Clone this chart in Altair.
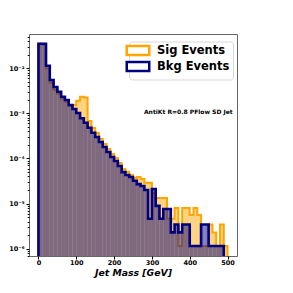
import json
import altair as alt
import pandas as pd

# ---- data (10 GeV bins, 0-500 GeV) ----
bin_lo = list(range(0, 500, 10))
bin_width = 10

sig_values = [
    0.035, 0.033, 0.0099, 0.00472, 0.0033, 0.00269, 0.00209, 0.00179, 0.00146, 0.00153,
    0.00191, 0.00234, 0.00225, 0.000679, 0.000474, 0.000367, 0.00027, 0.000209, 0.000163, 0.000126,
    0.000103, 7.9e-5, 5.85e-5, 5.0e-5, 4.3e-5, 3.7e-5, 3.9e-5, 3.5e-5, 2.9e-5, 2.9e-5,
    1.72e-5, 1.33e-5, 1.33e-5, 1.33e-5, 4.6e-6, 4.6e-6, 8.0e-6, 1.15e-6, 8.0e-6, 8.0e-6,
    5.6e-6, 8.0e-6, 5.6e-6, 1.15e-6, 1.15e-6, 3.45e-6, 2.3e-6, 1.15e-6, 3.45e-6, 1.15e-6,
]
bkg_values = [
    0.035, 0.035, 0.01142, 0.0055, 0.00385, 0.00303, 0.00234, 0.00198, 0.00153, 0.00125,
    0.00102, 0.000778, 0.000622, 0.000482, 0.000373, 0.0003, 0.000232, 0.00018, 0.000139, 0.000108,
    8.8e-5, 6.8e-5, 5.0e-5, 4.3e-5, 3.9e-5, 3.2e-5, 2.7e-5, 2.45e-5, 2.0e-5, 4.6e-6,
    2.1e-5, 8.9e-6, 4.6e-6, 7.6e-6, 7.6e-6, 2.3e-6, 3.45e-6, 2.3e-6, 3.45e-6, 3.45e-6,
    1.15e-6, 1.15e-6, 1.15e-6, 3.45e-6, 3.45e-6, 1.15e-6, 1.15e-6, 1.15e-6, 1.15e-6,
]
series_names = ["Sig Events", "Bkg Events"]
series_colors = ["orange", "navy"]

x_ticks = [0, 100, 200, 300, 400, 500]
y_tick_labels = ["10\u207b\u2076", "10\u207b\u2075", "10\u207b\u2074", "10\u207b\u00b3", "10\u207b\u00b2"]
annotation = "AntiKt R=0.8 PFlow SD Jet"
x_title = "Jet Mass [GeV]"

y_min, y_max = 6.89e-7, 0.0576
x_min, x_max = -25, 525
floor = 1e-9


def bars(values, name):
    return pd.DataFrame({
        "lo": bin_lo[:len(values)],
        "hi": [b + bin_width for b in bin_lo[:len(values)]],
        "v": values,
        "series": name,
    })


def steps(values, name):
    n = len(values)
    xs = [bin_lo[0]] + bin_lo[:n] + [bin_lo[n - 1] + bin_width] * 2
    ys = [floor] + list(values) + [values[-1], floor]
    return pd.DataFrame({"x": xs, "v": ys, "i": range(len(xs)), "series": name})


sig_bars = bars(sig_values, series_names[0])
bkg_bars = bars(bkg_values, series_names[1])
sig_step = steps(sig_values, series_names[0])
bkg_step = steps(bkg_values, series_names[1])

# minor + major y ticks
y_tick_vals = []
for e in range(-7, -1):
    for m in range(1, 10):
        val = m * 10.0 ** e
        if y_min <= val <= y_max:
            y_tick_vals.append(float(f"{val:.3g}"))

is_major = "abs(log(datum.value)/LN10 - round(log(datum.value)/LN10)) < 0.01"
label_expr = (
    f"{is_major} ? {json.dumps(y_tick_labels)}[round(log(datum.value)/LN10) + 6] : ''"
)

x_scale = alt.Scale(domain=[x_min, x_max], nice=False, zero=False)
y_scale = alt.Scale(type="log", domain=[y_min, y_max], nice=False)

x_axis = alt.Axis(
    values=x_ticks, title=x_title, grid=False, labelFontWeight="bold", labelFontSize=6.5,
    labelColor="black", tickColor="black", tickSize=3, domain=False,
    titleFontWeight="bold", titleFontStyle="italic", titleFontSize=9.3,
    titlePadding=2, labelPadding=0.5, titleColor="black",
)
y_axis = alt.Axis(
    values=y_tick_vals, title=None, grid=False, labelExpr=label_expr,
    labelFontWeight="bold", labelFontSize=6.5, labelColor="black", tickColor="black",
    tickSize={"condition": {"test": is_major, "value": 3}, "value": 1.8},
    domain=False, labelPadding=2,
)

color_scale = alt.Scale(domain=series_names, range=series_colors)
legend = alt.Legend(
    orient="none", legendX=100, legendY=7.5, title=None,
    symbolType="M-2.5,-1H2.5V1H-2.5Z", symbolSize=81, symbolStrokeWidth=2.5,
    symbolFillColor="white", labelFont="DejaVu Sans", labelFontWeight="bold",
    labelFontSize=11.5, labelColor="black", fillColor="white", strokeColor="#d8d8d8",
    padding=3, cornerRadius=3, rowPadding=-6.6, labelOffset=13,
)


def fill_layer(df, color):
    return alt.Chart(df).mark_rect(color=color, opacity=0.5, clip=True).encode(
        x=alt.X("lo:Q", scale=x_scale, axis=x_axis),
        x2="hi:Q",
        y=alt.Y("v:Q", scale=y_scale, axis=y_axis),
        y2=alt.value(222),
    )


def line_layer(df, width):
    return alt.Chart(df).mark_line(interpolate="step-after", strokeWidth=width, clip=True).encode(
        x=alt.X("x:Q", scale=x_scale, axis=x_axis),
        y=alt.Y("v:Q", scale=y_scale, axis=y_axis),
        order="i:Q",
        color=alt.Color("series:N", scale=color_scale, legend=legend),
    )


ann_df = pd.DataFrame({"x": [279], "v": [1.09e-3], "t": [annotation]})
ann = alt.Chart(ann_df).mark_text(
    align="left", baseline="middle", fontWeight="bold", fontSize=6, font="DejaVu Sans", color="black"
).encode(x=alt.X("x:Q", scale=x_scale), y=alt.Y("v:Q", scale=y_scale), text="t:N")

chart = alt.layer(
    fill_layer(sig_bars, "orange"),
    line_layer(sig_step, 2),
    fill_layer(bkg_bars, "navy"),
    line_layer(bkg_step, 2.6),
    ann,
).properties(
    width=208, height=222,
    autosize=alt.AutoSizeParams(type="none"),
    padding={"left": 21, "top": 26, "right": 10, "bottom": 30},
).configure(font="DejaVu Sans").configure_view(stroke="#666666", strokeWidth=1)

chart.save("out.html", embed_options={"renderer": "svg", "actions": False})
